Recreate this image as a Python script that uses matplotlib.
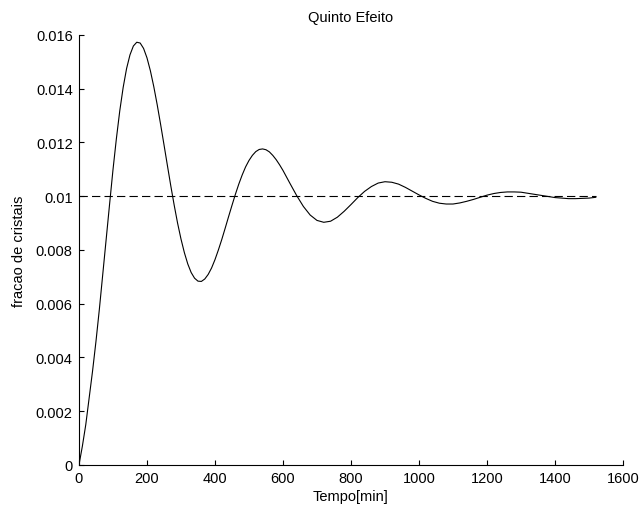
import matplotlib
matplotlib.use("Agg")
import matplotlib.pyplot as plt
import numpy as np

plt.rcParams['font.family'] = ['Liberation Sans', 'DejaVu Sans']
plt.rcParams['font.size'] = 10.5

# tempo [min] e fracao de cristais no quinto efeito
tempo = [0, 10, 20, 30, 40, 50, 60, 70, 80, 90,
         100, 110, 120, 130, 140, 150, 160, 170, 180, 190,
         200, 210, 220, 230, 240, 250, 260, 270, 280, 290,
         300, 310, 320, 330, 340, 350, 360, 370, 380, 390,
         400, 410, 420, 430, 440, 450, 460, 470, 480, 490,
         500, 510, 520, 530, 540, 550, 560, 570, 580, 590,
         600, 620, 640, 660, 680, 700, 720, 740, 760, 780,
         800, 820, 840, 860, 880, 900, 920, 940, 960, 980,
         1000, 1020, 1040, 1060, 1080, 1100, 1120, 1140, 1160, 1180,
         1200, 1220, 1240, 1260, 1280, 1300, 1320, 1340, 1360, 1380,
         1400, 1420, 1440, 1460, 1480, 1500, 1520]
fracao = [0.0, 0.0007, 0.0015, 0.0025, 0.0035, 0.0046, 0.0058, 0.0071, 0.0084, 0.0097,
          0.01098, 0.01214, 0.01318, 0.01405, 0.01475, 0.01526, 0.01559, 0.01573, 0.01570, 0.01550,
          0.01515, 0.01467, 0.01408, 0.01341, 0.01268, 0.01192, 0.01115, 0.01039, 0.00967, 0.00900,
          0.00841, 0.00790, 0.00748, 0.00716, 0.00695, 0.00684, 0.00683, 0.00692, 0.00709, 0.00733,
          0.00764, 0.00800, 0.00839, 0.00881, 0.00924, 0.00966, 0.01007, 0.01045, 0.01079, 0.01109,
          0.01133, 0.01152, 0.01166, 0.01174, 0.01176, 0.01173, 0.01165, 0.01152, 0.01136, 0.01117,
          0.01096, 0.01049, 0.01003, 0.00962, 0.00930, 0.00910, 0.00903, 0.00907, 0.00922, 0.00944,
          0.00969, 0.00995, 0.01018, 0.01036, 0.01049, 0.01054, 0.01052, 0.01045, 0.01033, 0.01019,
          0.01005, 0.00992, 0.00981, 0.00974, 0.00971, 0.00971, 0.00975, 0.00981, 0.00988, 0.00996,
          0.01004, 0.01010, 0.01014, 0.01016, 0.01016, 0.01015, 0.01011, 0.01007, 0.01003, 0.00999,
          0.00995, 0.00993, 0.00991, 0.00991, 0.00992, 0.00993, 0.00996]
referencia = 0.01

xticks = [0, 200, 400, 600, 800, 1000, 1200, 1400, 1600]
yticks = [0, 0.002, 0.004, 0.006, 0.008, 0.01, 0.012, 0.014, 0.016]
ytick_labels = ['0', '0.002', '0.004', '0.006', '0.008', '0.01', '0.012', '0.014', '0.016']

fig = plt.figure(figsize=(6.41, 5.06), dpi=100)
ax = fig.add_axes([0.1232, 0.0791, 0.8487, 0.8498])

ax.plot(tempo, fracao, color='black', linewidth=0.8)
ax.plot([tempo[0], tempo[-1]], [referencia, referencia], color='black',
        linewidth=0.8, dashes=(7.5, 3.75))

ax.set_xlim(0, 1600)
ax.set_ylim(0, 0.016)
ax.set_xticks(xticks)
ax.set_xticklabels([str(x) for x in xticks])
ax.set_yticks(yticks)
ax.set_yticklabels(ytick_labels)

ax.spines['top'].set_visible(False)
ax.spines['right'].set_visible(False)
for s in ['left', 'bottom']:
    ax.spines[s].set_linewidth(0.8)
ax.tick_params(direction='in', length=3.6, width=0.8, pad=4.5, labelsize=10.5)

ax.set_title('Quinto Efeito', fontsize=10.5, pad=10)
ax.set_xlabel('Tempo[min]', fontsize=10.5, labelpad=3)
ax.set_ylabel('fracao de cristais', fontsize=10.5, labelpad=7)

fig.savefig('out.png', dpi=100)
